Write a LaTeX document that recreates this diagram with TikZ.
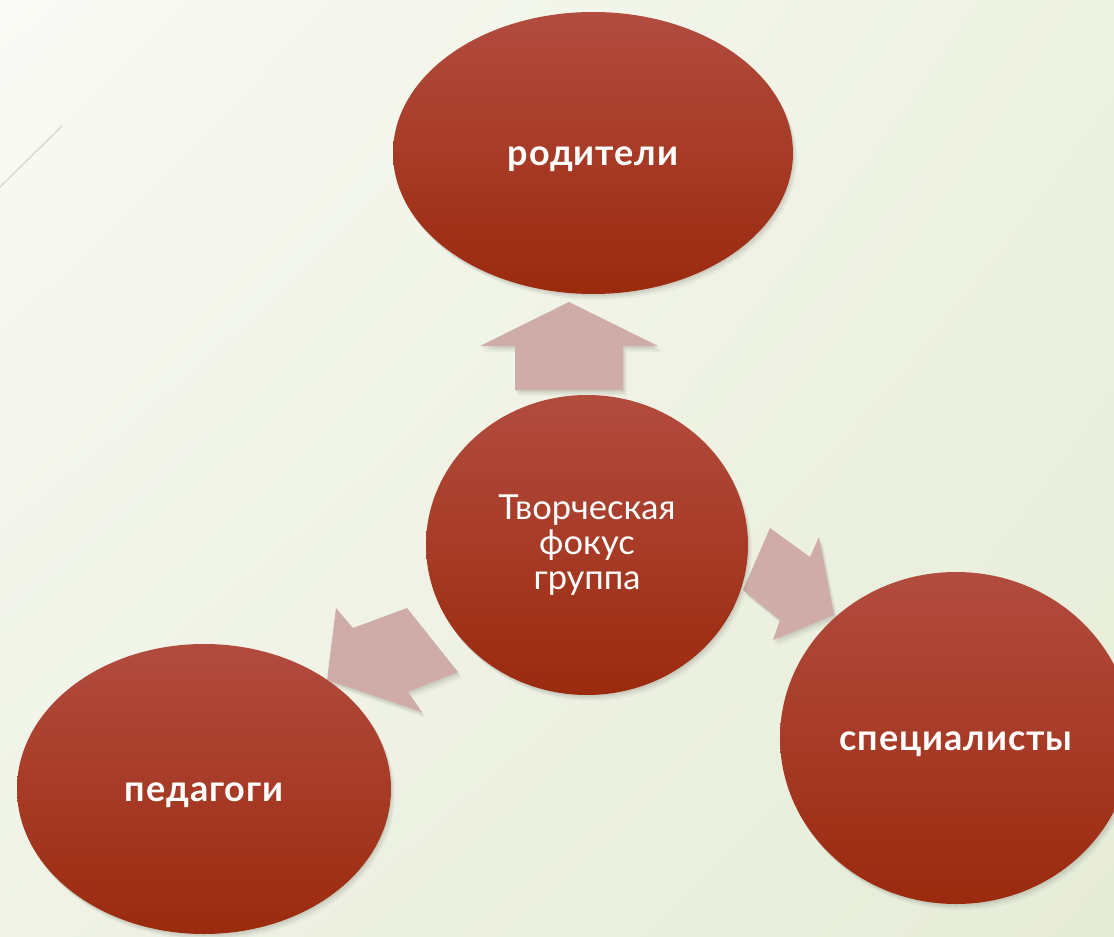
\documentclass[tikz,border=0pt]{standalone}
\usepackage{fontspec}
\setmainfont{Lato}
\usetikzlibrary{shapes.geometric,shadings}
\definecolor{bgUL}{HTML}{F9FAF5}
\definecolor{bgUR}{HTML}{EDF1E1}
\definecolor{bgLL}{HTML}{EFF2E5}
\definecolor{bgLR}{HTML}{E7ECD8}
\definecolor{redTop}{HTML}{B24C3F}
\definecolor{redBot}{HTML}{9B2A0E}
\definecolor{arrowFill}{HTML}{D0ACA8}
\definecolor{decoLine}{HTML}{D6D8CF}
\newfontfamily\boldwide[LetterSpace=2.5]{Lato}
\newcommand{\lowered}[1]{\raisebox{-6pt}[\height][\depth]{#1}}
\begin{document}
\begin{tikzpicture}[x=1pt,y=-1pt,
  softshadow/.style={
    preaction={fill=black,opacity=.035,transform canvas={shift={(4pt,-6pt)}}},
    preaction={fill=black,opacity=.05,transform canvas={shift={(2.5pt,-4pt)}}},
    preaction={fill=black,opacity=.06,transform canvas={shift={(1pt,-2pt)}}}},
  bubble/.style={ellipse, inner sep=0pt, draw=none, softshadow,
    top color=redTop, bottom color=redBot, text=white, align=center},
  boldlabel/.style={font=\boldwide\bfseries\fontsize{36}{40}\selectfont},
  centerlabel/.style={font=\fontsize{34.5}{35}\selectfont},
  blockarrow/.style={fill=arrowFill, softshadow}]
\useasboundingbox (0,0) rectangle (1114,937);
\clip (0,0) rectangle (1114,937);
\shade[upper left=bgUL, upper right=bgUR, lower left=bgLL, lower right=bgLR]
  (0,0) rectangle (1114,937);
\coordinate (d1) at (0,187);
\coordinate (d2) at (62,126);
\draw[decoLine, line width=1.2pt] (d1) -- (d2);
% block arrows
\fill[blockarrow] (515,390) -- (515,346) -- (480,346) -- (569,302) -- (658,346) -- (623,346) -- (623,390) -- cycle;
\fill[blockarrow] (770,528) -- (810,557) -- (819,537) -- (834,615) -- (773,640) -- (780,620) -- (743,590) -- cycle;
\fill[blockarrow] (407,608) -- (353,628) -- (336,608) -- (327,680) -- (422,712) -- (408,692) -- (458,672) -- cycle;
% ellipses
\node[bubble, boldlabel, minimum width=400pt, minimum height=282pt] (par) at (593,153) {\lowered{родители}};
\node[bubble, centerlabel, minimum width=322pt, minimum height=300pt] (cen) at (587,545) {Творческая\\фокус\\группа};
\node[bubble, boldlabel, minimum width=352pt, minimum height=332pt] (spec) at (956,738) {\lowered{специалисты}};
\node[bubble, boldlabel, minimum width=374pt, minimum height=290pt] (ped) at (204,789) {\lowered{педагоги}};
\end{tikzpicture}
\end{document}
